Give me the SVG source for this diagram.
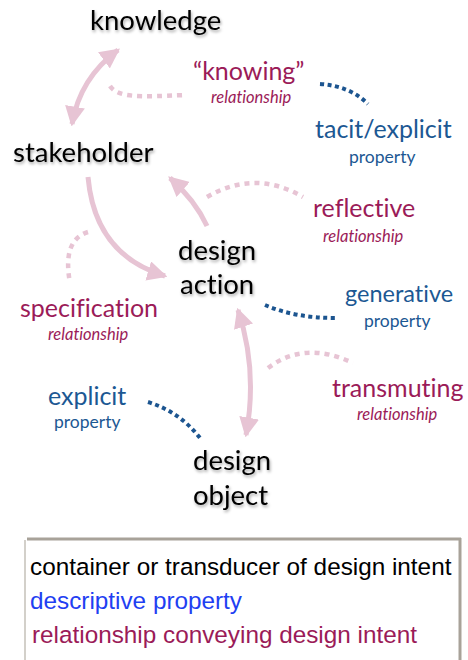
<svg xmlns="http://www.w3.org/2000/svg" width="468" height="660" viewBox="0 0 468 660">
<style>
text{font-variant-ligatures:none}
.node{font-family:Lato,"Open Sans",sans-serif;font-size:27.5px;fill:#000;filter:url(#sh)}
.rel{font-family:Lato,"Open Sans",sans-serif;font-size:25px;fill:#9b1b58}
.reli{font-family:Lato,"Open Sans",sans-serif;font-size:16.5px;font-style:italic;fill:#9b1b58}
.prop{font-family:Lato,"Open Sans",sans-serif;font-size:25px;fill:#1c5893}
.propi{font-family:Lato,"Open Sans",sans-serif;font-size:17.5px;fill:#1c5893}
.arr{fill:none;stroke:#e7c4d4;stroke-width:5}
.pd{fill:none;stroke:#e7c4d4;stroke-width:4.5;stroke-dasharray:5 5}
.bd{fill:none;stroke:#1c5590;stroke-width:4;stroke-dasharray:4 3.5}
.leg{font-family:"Liberation Sans",Arial,sans-serif;font-size:24.3px}
</style>
<defs>
<filter id="sh" x="-10%" y="-20%" width="130%" height="160%">
<feDropShadow dx="1" dy="2" stdDeviation="1.5" flood-color="#000" flood-opacity="0.35"/>
</filter>
<marker id="ah" markerUnits="userSpaceOnUse" markerWidth="20" markerHeight="20" refX="14" refY="8" orient="auto-start-reverse" viewBox="0 0 16 16">
<path d="M0,0 L16,8 L0,16 Z" fill="#e7c4d4"/>
</marker>
</defs>
<rect width="468" height="660" fill="#fff"/>
<g id="connectors">
<path class="arr" d="M118,50 Q80,78 72,124" marker-start="url(#ah)" marker-end="url(#ah)"/>
<path class="arr" d="M88,177 Q95,255 165,276" marker-end="url(#ah)"/>
<path class="arr" d="M207,226 Q195,200 170,178" marker-end="url(#ah)"/>
<path class="arr" d="M238,310 Q258,370 246,435" marker-start="url(#ah)" marker-end="url(#ah)"/>
<path class="pd" d="M110,86 C118,98 140,97 185,95"/>
<path class="pd" d="M207,197 Q255,169 303,197"/>
<path class="pd" d="M88,232 Q62,240 70,283"/>
<path class="pd" d="M268,368 Q305,340 353,363"/>
<path class="bd" d="M320,84 Q350,86 368,104"/>
<path class="bd" d="M265,305 Q295,318 335,318"/>
<path class="bd" d="M148,402 Q180,412 200,438"/>
</g>
<g id="knowledge"><text class="node" x="90" y="30">knowledge</text></g>
<g id="stakeholder"><text class="node" x="13" y="162">stakeholder</text></g>
<g id="design-action"><text class="node" x="178" y="260">design</text><text class="node" x="180" y="294">action</text></g>
<g id="design-object"><text class="node" x="193" y="470">design</text><text class="node" x="193" y="505">object</text></g>
<g id="knowing"><text class="rel" x="193" y="80">“knowing”</text><text class="reli" x="211" y="103">relationship</text></g>
<g id="tacit-explicit"><text class="prop" x="315" y="138">tacit/explicit</text><text class="propi" x="349" y="163">property</text></g>
<g id="reflective"><text class="rel" x="313" y="217">reflective</text><text class="reli" x="323" y="242">relationship</text></g>
<g id="specification"><text class="rel" x="20" y="317">specification</text><text class="reli" x="48" y="340">relationship</text></g>
<g id="generative"><text class="prop" x="345" y="302" style="font-size:23.5px">generative</text><text class="propi" x="364" y="327">property</text></g>
<g id="transmuting"><text class="rel" x="332" y="397">transmuting</text><text class="reli" x="357" y="420">relationship</text></g>
<g id="explicit"><text class="prop" x="48" y="405">explicit</text><text class="propi" x="54" y="428">property</text></g>
<g id="legend">
<rect x="26" y="539" width="434" height="125" fill="#fff"/>
<line x1="27" y1="539" x2="461" y2="539" stroke="#a8a299" stroke-width="3"/>
<line x1="460" y1="538" x2="460" y2="660" stroke="#a8a299" stroke-width="3"/>
<line x1="25" y1="540" x2="25" y2="660" stroke="#c4c0b8" stroke-width="1.5"/>
<text class="leg" x="30" y="575" fill="#000">container or transducer of design intent</text>
<text class="leg" x="30" y="609" fill="#1f40f2">descriptive property</text>
<text class="leg" x="32" y="643" fill="#9b1b58">relationship conveying design intent</text>
</g>
</svg>
